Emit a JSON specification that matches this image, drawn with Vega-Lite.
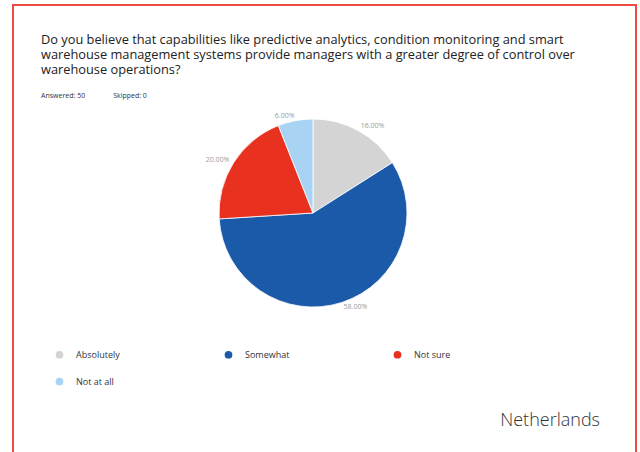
{
  "$schema": "https://vega.github.io/schema/vega-lite/v6.json",
  "width": 623,
  "height": 460,
  "autosize": {"type": "none"},
  "padding": {"left": 13, "top": 5, "right": 4, "bottom": 0},
  "background": "white",
  "view": {"stroke": "#ef4b45", "strokeWidth": 2},
  "config": {"view": {"stroke": "#ef4b45", "strokeWidth": 2}},
  "title": {
    "text": [
      "Do you believe that capabilities like predictive analytics, condition monitoring and smart",
      "warehouse management systems provide managers with a greater degree of control over",
      "warehouse operations?"
    ],
    "subtitle": "Answered: 50\u2003\u2003\u2003\u2003Skipped: 0",
    "anchor": "start",
    "frame": "group",
    "orient": "top",
    "offset": -94,
    "dx": 28,
    "font": "Open Sans",
    "fontSize": 12.8,
    "fontWeight": "normal",
    "color": "#222222",
    "lineHeight": 15,
    "subtitleFont": "Open Sans",
    "subtitleFontSize": 7,
    "subtitleColor": "#333333",
    "subtitlePadding": 15
  },
  "data": {
    "values": [
      {"answer": "Absolutely", "share": 0.16, "idx": 1},
      {"answer": "Somewhat", "share": 0.58, "idx": 2},
      {"answer": "Not sure", "share": 0.20, "idx": 3},
      {"answer": "Not at all", "share": 0.06, "idx": 4}
    ]
  },
  "layer": [
    {
      "mark": {"type": "arc", "outerRadius": 94, "x": 300, "y": 208, "stroke": "white", "strokeWidth": 0.8},
      "encoding": {
        "theta": {"field": "share", "type": "quantitative", "stack": true, "scale": {"domain": [0, 1]}},
        "order": {"field": "idx", "type": "quantitative"},
        "color": {
          "field": "answer",
          "type": "nominal",
          "sort": ["Absolutely", "Somewhat", "Not sure", "Not at all"],
          "scale": {
            "domain": ["Absolutely", "Somewhat", "Not sure", "Not at all"],
            "range": ["#d4d4d4", "#1a5aa8", "#e8321f", "#a9d3f2"]
          },
          "legend": {
            "orient": "none",
            "direction": "horizontal",
            "legendX": 42,
            "legendY": 345,
            "title": null,
            "columns": 3,
            "gridAlign": "all",
            "columnPadding": 103,
            "rowPadding": 17,
            "padding": 0,
            "symbolType": "circle",
            "symbolSize": 60,
            "symbolStrokeWidth": 0,
            "labelFont": "Open Sans",
            "labelFontSize": 9,
            "labelOffset": 12,
            "labelColor": "#333333"
          }
        }
      }
    },
    {
      "transform": [{"filter": "datum.idx <= 2"}],
      "mark": {"type": "text", "radius": 99, "x": 300, "y": 208, "align": "left", "baseline": "middle", "fontSize": 7, "font": "Open Sans", "color": "#999999"},
      "encoding": {
        "theta": {"field": "share", "type": "quantitative", "stack": true, "scale": {"domain": [0, 1]}},
        "order": {"field": "idx", "type": "quantitative"},
        "text": {"field": "share", "type": "quantitative", "format": ".2%"}
      }
    },
    {
      "mark": {"type": "text", "radius": 99, "x": 300, "y": 208, "align": "right", "baseline": "middle", "fontSize": 7, "font": "Open Sans", "color": "#999999"},
      "encoding": {
        "theta": {"field": "share", "type": "quantitative", "stack": true, "scale": {"domain": [0, 1]}},
        "order": {"field": "idx", "type": "quantitative"},
        "text": {"condition": {"test": "datum.idx > 2", "field": "share", "type": "quantitative", "format": ".2%"}, "value": ""}
      }
    },
    {
      "data": {"values": [{"country": "Netherlands"}]},
      "mark": {"type": "text", "x": 587, "y": 421, "align": "right", "baseline": "alphabetic", "fontSize": 18, "font": "Open Sans", "fontWeight": 300, "color": "#333333"},
      "encoding": {"text": {"field": "country", "type": "nominal"}}
    }
  ]
}
